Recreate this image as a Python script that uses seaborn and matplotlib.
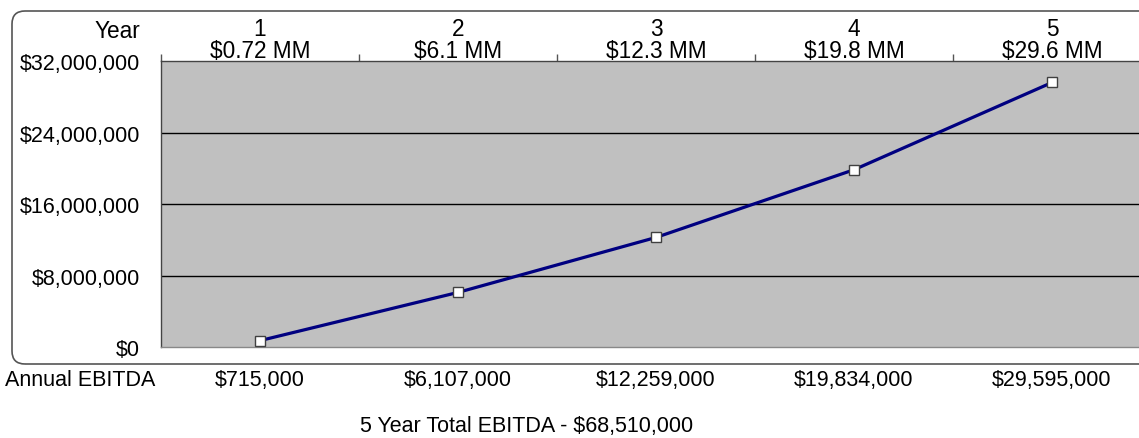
import matplotlib
matplotlib.use("Agg")
import matplotlib.pyplot as plt
from matplotlib import font_manager
from matplotlib.patches import FancyBboxPatch
from matplotlib.transforms import IdentityTransform
from matplotlib.ticker import FuncFormatter, FixedLocator
import seaborn as sns
import pandas as pd

years = ["1", "2", "3", "4", "5"]
mm_labels = ["$0.72 MM", "$6.1 MM", "$12.3 MM", "$19.8 MM", "$29.6 MM"]
ebitda = [715000, 6107000, 12259000, 19834000, 29595000]
ebitda_labels = ["$715,000", "$6,107,000", "$12,259,000", "$19,834,000", "$29,595,000"]
total_label = "5 Year Total EBITDA - $68,510,000"
row_label = "Annual EBITDA"
yticks = [0, 8000000, 16000000, 24000000, 32000000]

sns.set_theme(style="white")
plt.rcParams['font.family'] = ['Liberation Sans', 'DejaVu Sans']
plt.rcParams['text.color'] = 'black'

names = {f.name for f in font_manager.fontManager.ttflist}
narrow = None
for cand in ['Liberation Sans Narrow', 'Arial Narrow']:
    if cand in names:
        narrow = cand
        break

W, H = 1139, 439
fig = plt.figure(figsize=(W / 100, H / 100), dpi=100)

# rounded outer frame (pixel coordinates)
box = FancyBboxPatch((12, H - 365), 1200, 365 - 12,
                     boxstyle="round,pad=0,rounding_size=13",
                     transform=IdentityTransform(), facecolor="none",
                     edgecolor="#555555", linewidth=1.2, zorder=0)
fig.patches.append(box)

ax = fig.add_axes([161 / W, 91 / H, 990 / W, 286 / H])
ax.set_zorder(2)
ax.set_facecolor("#C0C0C0")

df = pd.DataFrame({"x": list(range(len(years))), "y": ebitda})
sns.lineplot(data=df, x="x", y="y", ax=ax, color="#000080", linewidth=2.3,
             marker="s", markersize=7, markerfacecolor="white",
             markeredgecolor="#404040", markeredgewidth=1, zorder=5)

ax.set_xlim(-0.5, 4.5)
ax.set_ylim(0, 32000000)
ax.set_xlabel("")
ax.set_ylabel("")

# y axis
ax.set_yticks(yticks)
ax.yaxis.set_major_formatter(FuncFormatter(lambda v, p: "$0" if v == 0 else f"${v:,.0f}"))
ax.tick_params(axis="y", length=7, width=1, color="#555555", pad=8, labelsize=15.5, labelcolor="black")
for v in yticks[1:-1]:
    ax.axhline(v, color="black", linewidth=1, zorder=1)

# top x axis
ax.xaxis.tick_top()
ax.set_xticks(range(len(years)))
ax.set_xticklabels([f"{y}\n{m}" for y, m in zip(years, mm_labels)], linespacing=0.95)
ax.xaxis.set_minor_locator(FixedLocator([i - 0.5 for i in range(len(years) + 1)]))
ax.tick_params(axis="x", which="major", length=0, pad=-1, labelsize=16.3, labelcolor="black")
ax.tick_params(axis="x", which="minor", top=True, bottom=False, length=5, width=1, color="#555555", direction="out")

for s in ["left", "top"]:
    ax.spines[s].set_color("#444444")
    ax.spines[s].set_linewidth(1)
ax.spines["bottom"].set_color("#888888")
ax.spines["bottom"].set_linewidth(1)
ax.spines["right"].set_visible(False)

fig.text(140 / W, 1 - 32 / H, "Year", ha="right", va="center", fontsize=16.3, color="black")

# bottom table row
bfont = dict(family=narrow, fontsize=17) if narrow else dict(fontsize=15.5)
fig.text(5 / W, 1 - 381 / H, row_label, ha="left", va="center", color="black", **bfont)
for i, lab in enumerate(ebitda_labels):
    xpix = 161 + 198 * (i + 0.5)
    fig.text(xpix / W, 1 - 381 / H, lab, ha="center", va="center", color="black", **bfont)
fig.text(527 / W, 1 - 427 / H, total_label, ha="center", va="center", color="black", **bfont)

fig.savefig("out.png", dpi=100)
